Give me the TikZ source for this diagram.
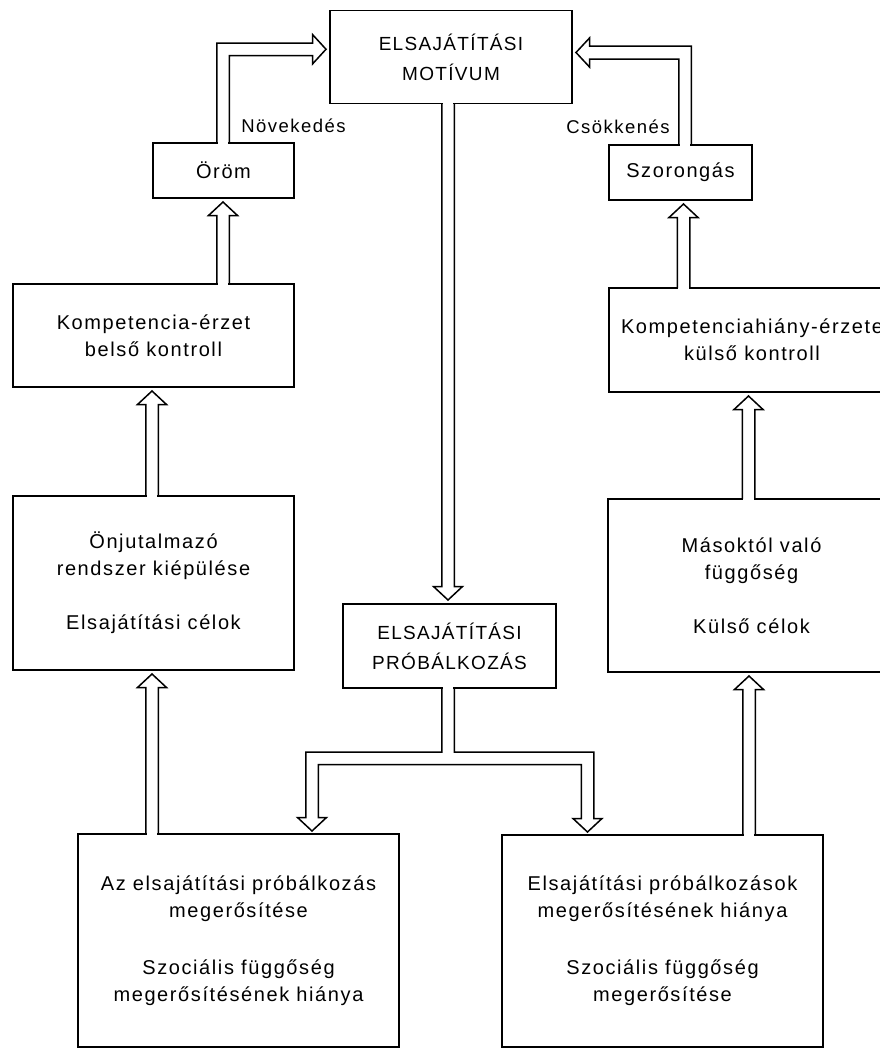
\documentclass[tikz,border=0pt]{standalone}
\usepackage{fontspec}
\setmainfont{Liberation Sans}
\newfontfamily\bodyfont[LetterSpace=8]{Liberation Sans}
\newfontfamily\capsfont[LetterSpace=7]{Liberation Sans}
\usetikzlibrary{calc}

\newcommand\hollowUp[3]{%
  \fill[white] let \p1=(#1.north) in (#3pt-5.2pt,\y1-1.2pt) rectangle (#3pt+5.2pt,\y1+1.2pt);
  \draw[arr] let \p1=(#1.north), \p2=(#2.south) in
    (#3pt-6.25pt,\y1) -- (#3pt-6.25pt,\y2-17.5pt) -- (#3pt-14.5pt,\y2-17.5pt) -- (#3pt,\y2-4pt)
    -- (#3pt+14.5pt,\y2-17.5pt) -- (#3pt+6.25pt,\y2-17.5pt) -- (#3pt+6.25pt,\y1);
}
\newcommand\hollowDown[3]{%
  \fill[white] let \p1=(#1.south) in (#3pt-5.2pt,\y1-1.2pt) rectangle (#3pt+5.2pt,\y1+1.2pt);
  \draw[arr] let \p1=(#1.south), \p2=(#2.north) in
    (#3pt-6.25pt,\y1) -- (#3pt-6.25pt,\y2+17.5pt) -- (#3pt-14.5pt,\y2+17.5pt) -- (#3pt,\y2+4pt)
    -- (#3pt+14.5pt,\y2+17.5pt) -- (#3pt+6.25pt,\y2+17.5pt) -- (#3pt+6.25pt,\y1);
}

\begin{document}
\begin{tikzpicture}[x=1pt,y=-1pt,
  box/.style={draw, line width=1.6pt, inner sep=0pt, outer sep=0pt, align=center,
    font=\bodyfont\fontsize{20}{27}\selectfont},
  capbox/.style={box, font=\capsfont\fontsize{19}{30}\selectfont},
  lab/.style={font=\bodyfont\fontsize{18.5}{22}\selectfont, inner sep=0pt},
  arr/.style={draw, line width=1.5pt, line join=miter},
]
\useasboundingbox (0,0) rectangle (880,1050);
\fill[white] (0,0) rectangle (880,1050);
\clip (0,0) rectangle (880,1050);

\node[capbox, minimum width=242, minimum height=93] (mot) at (451,57) {ELSAJÁTÍTÁSI\\MOTÍVUM};
\node[box, minimum width=141, minimum height=55] (orom) at (223.5,170.5) {Öröm};
\node[box, minimum width=143, minimum height=55] (szor) at (680.5,172.5) {Szorongás};
\node[box, minimum width=281, minimum height=103] (komp) at (153.5,335.5) {Kompetencia-érzet\\belső kontroll};
\node[box, minimum width=286, minimum height=104] (kompx) at (752,340) {Kompetenciahiány-érzete\\külső kontroll};
\node[box, minimum width=281, minimum height=174] (onj) at (153.5,583) {Önjutalmazó\\rendszer kiépülése\\[27pt]Elsajátítási célok};
\node[box, minimum width=287, minimum height=173] (mas) at (751.5,585.5) {Másoktól való\\függőség\\[27pt]Külső célok};
\node[capbox, minimum width=213, minimum height=84] (prob) at (449.5,646) {ELSAJÁTÍTÁSI\\PRÓBÁLKOZÁS};
\node[box, minimum width=321, minimum height=213] (bl) at (238.5,940.5) {Az elsajátítási próbálkozás\\megerősítése\\[30pt]Szociális függőség\\megerősítésének hiánya};
\node[box, minimum width=321, minimum height=212] (br) at (662.5,941) {Elsajátítási próbálkozások\\megerősítésének hiánya\\[30pt]Szociális függőség\\megerősítése};

\node[lab] (nov) at (293.5,126) {Növekedés};
\node[lab] (csok) at (618,127) {Csökkenés};

% Öröm -> motívum
\fill[white] let \p1=(orom.north) in (223pt-5.2pt,\y1-1.2pt) rectangle (223pt+5.2pt,\y1+1.2pt);
\draw[arr] let \p1=(orom.north), \p2=(mot.west) in
  (216.75pt,\y1) -- (216.75pt,-43pt) -- (\x2-17.5pt,-43pt) -- (\x2-17.5pt,-34.5pt) -- (\x2-4pt,-49.25pt)
  -- (\x2-17.5pt,-64pt) -- (\x2-17.5pt,-55.5pt) -- (229.25pt,-55.5pt) -- (229.25pt,\y1);

% Szorongás -> motívum
\fill[white] let \p1=(szor.north) in (685pt-5.2pt,\y1-1.2pt) rectangle (685pt+5.2pt,\y1+1.2pt);
\draw[arr] let \p1=(szor.north), \p2=(mot.east) in
  (691.25pt,\y1) -- (691.25pt,-46pt) -- (\x2+17.5pt,-46pt) -- (\x2+17.5pt,-38pt) -- (\x2+4pt,-52.5pt)
  -- (\x2+17.5pt,-67pt) -- (\x2+17.5pt,-59pt) -- (678.75pt,-59pt) -- (678.75pt,\y1);

\hollowUp{komp}{orom}{223}
\hollowUp{kompx}{szor}{683.5}
\hollowUp{onj}{komp}{152}
\hollowUp{mas}{kompx}{748.5}
\hollowUp{bl}{onj}{152}
\hollowUp{br}{mas}{749}
\hollowDown{mot}{prob}{448}

% próbálkozás -> both bottom boxes
\fill[white] let \p1=(prob.south) in (448pt-5.2pt,\y1-1.2pt) rectangle (448pt+5.2pt,\y1+1.2pt);
\draw[arr] let \p1=(prob.south), \p2=(bl.north), \p3=(br.north) in
  (441.75pt,\y1) -- (441.75pt,-752pt) -- (305.75pt,-752pt) -- (305.75pt,\y2+16.5pt)
  -- (297.5pt,\y2+16.5pt) -- (312pt,\y2+3pt) -- (326.5pt,\y2+16.5pt) -- (318.25pt,\y2+16.5pt)
  -- (318.25pt,-764.5pt) -- (581.25pt,-764.5pt) -- (581.25pt,\y3+16.5pt) -- (573pt,\y3+16.5pt)
  -- (587.5pt,\y3+3pt) -- (602pt,\y3+16.5pt) -- (593.75pt,\y3+16.5pt) -- (593.75pt,-752pt)
  -- (454.25pt,-752pt) -- (454.25pt,\y1);
\end{tikzpicture}
\end{document}
